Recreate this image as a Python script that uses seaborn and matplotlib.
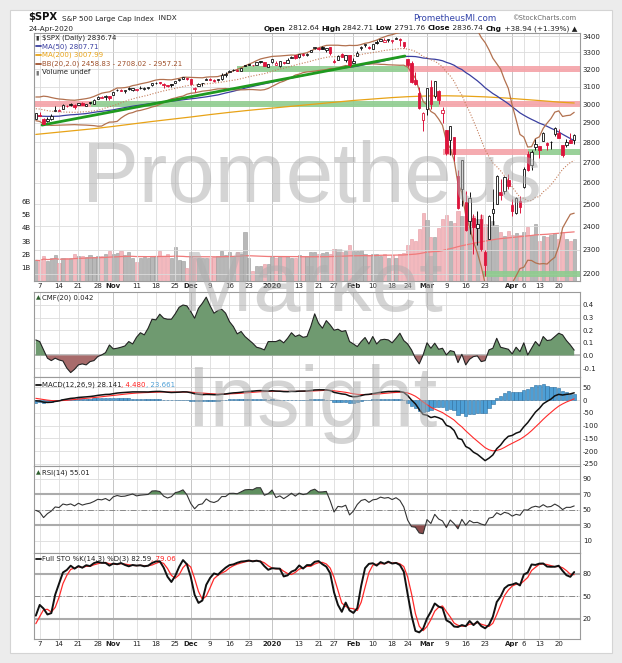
import numpy as np
import pandas as pd
import matplotlib
matplotlib.use('Agg')
import matplotlib.pyplot as plt
from matplotlib.lines import Line2D
from matplotlib.patches import Rectangle
import matplotlib.ticker as mticker
import seaborn as sns

# ---------------- data (daily $SPX, 4-Oct-2019 .. 24-Apr-2020) ----------------
holidays = ['2019-11-28', '2019-12-25', '2020-01-01', '2020-01-20', '2020-02-17', '2020-04-10']

open_ = [2918.6, 2944.2, 2920.4, 2911.1, 2918.6, 2963.1, 2965.8, 2973.6, 2989.7, 3000.8, 2996.8, 2996.5, 3010.7, 2994.0, 3014.8, 3003.3, 3032.1, 3035.4, 3039.7, 3046.9,
         3050.7, 3079.0, 3080.8, 3075.1, 3087.0, 3081.3, 3080.3, 3089.3, 3084.2, 3090.8, 3107.9, 3117.9, 3127.5, 3114.7, 3108.5, 3111.4, 3117.4, 3134.9, 3145.5, 3147.2,
         3143.9, 3087.4, 3103.5, 3119.2, 3134.6, 3141.9, 3135.4, 3135.8, 3141.2, 3166.7, 3183.6, 3195.4, 3195.2, 3192.3, 3223.3, 3226.1, 3225.5, 3227.2, 3247.2, 3240.1, 3215.2,
         3244.7, 3226.4, 3217.6, 3241.9, 3238.6, 3266.0, 3281.8, 3271.1, 3285.4, 3282.3, 3303.0, 3323.7, 3321.0, 3330.0, 3315.8, 3333.1, 3247.2, 3255.4, 3289.5, 3256.5, 3282.3,
         3235.7, 3280.6, 3324.9, 3344.9, 3335.5, 3318.3, 3365.9, 3370.5, 3365.9, 3378.1, 3369.0, 3380.4, 3380.5, 3360.5, 3257.6, 3238.9, 3139.9, 3062.5, 2916.9,
         2974.3, 3096.5, 3045.8, 3075.7, 2954.2, 2863.9, 2813.5, 2825.6, 2630.9, 2570.0, 2508.6, 2425.7, 2436.5, 2393.5, 2431.9, 2290.7, 2344.4, 2457.8, 2501.3, 2555.9, 2559.0, 2614.7,
         2498.1, 2458.5, 2514.9, 2578.3, 2738.7, 2685.0, 2777.0, 2782.5, 2805.1, 2795.6, 2799.3, 2842.4, 2845.6, 2784.8, 2787.9, 2810.4, 2812.6]
high_ = [2953.7, 2959.8, 2925.5, 2929.3, 2948.5, 2993.3, 2972.8, 3003.3, 2997.5, 3008.3, 3000.0, 3007.3, 3014.6, 3004.8, 3016.1, 3027.4, 3044.1, 3047.9, 3050.1, 3046.9,
         3067.0, 3085.2, 3084.0, 3078.3, 3097.8, 3093.1, 3088.3, 3102.6, 3098.1, 3098.2, 3120.5, 3124.2, 3127.6, 3119.0, 3110.1, 3112.9, 3133.8, 3142.7, 3154.3, 3150.3,
         3144.3, 3095.0, 3119.4, 3119.5, 3150.6, 3148.9, 3142.1, 3144.0, 3176.3, 3182.7, 3197.7, 3198.2, 3198.5, 3205.5, 3225.7, 3227.8, 3226.4, 3240.1, 3247.9, 3240.9, 3231.7,
         3258.1, 3246.2, 3246.8, 3244.9, 3267.1, 3275.6, 3283.0, 3288.1, 3294.3, 3298.7, 3317.1, 3329.9, 3329.8, 3337.8, 3326.9, 3333.2, 3258.9, 3285.8, 3293.5, 3285.9, 3282.3,
         3268.4, 3306.9, 3337.6, 3348.0, 3341.4, 3352.3, 3375.6, 3381.5, 3385.1, 3380.7, 3375.0, 3393.5, 3389.2, 3360.8, 3259.8, 3247.0, 3182.5, 3097.1, 2959.7,
         3091.0, 3136.7, 3131.0, 3083.0, 2985.9, 2863.9, 2882.6, 2825.6, 2661.0, 2711.3, 2563.0, 2553.9, 2453.6, 2467.0, 2453.0, 2300.7, 2449.7, 2571.4, 2637.0, 2615.9, 2631.8, 2641.4,
         2522.8, 2533.2, 2538.2, 2676.9, 2756.9, 2760.8, 2818.6, 2782.5, 2851.9, 2801.9, 2806.5, 2879.2, 2869.0, 2785.5, 2815.1, 2844.9, 2842.7]
low_ = [2918.6, 2935.7, 2892.7, 2907.4, 2917.1, 2963.1, 2962.9, 2973.6, 2985.2, 2991.8, 2976.3, 2995.4, 2995.0, 2991.2, 3000.4, 3001.9, 3032.1, 3034.8, 3026.0, 3023.2,
        3050.7, 3074.9, 3072.2, 3065.9, 3080.2, 3073.6, 3075.8, 3084.7, 3078.8, 3083.3, 3104.6, 3112.1, 3113.5, 3091.4, 3094.6, 3099.3, 3117.4, 3131.0, 3143.4, 3139.3,
        3110.8, 3070.3, 3102.5, 3103.8, 3134.6, 3135.5, 3126.1, 3133.2, 3138.5, 3156.5, 3183.6, 3191.0, 3191.1, 3192.3, 3216.0, 3222.3, 3220.5, 3227.2, 3234.4, 3216.6, 3212.0,
        3235.5, 3222.3, 3214.6, 3232.4, 3236.7, 3263.7, 3260.9, 3268.4, 3277.2, 3280.7, 3302.8, 3318.9, 3316.6, 3320.0, 3301.9, 3281.5, 3234.5, 3253.2, 3271.9, 3242.8, 3214.7,
        3235.7, 3280.6, 3313.8, 3334.4, 3322.1, 3317.8, 3352.7, 3369.7, 3360.5, 3366.2, 3355.6, 3378.8, 3341.0, 3328.5, 3214.7, 3118.8, 3109.0, 2977.4, 2855.8,
        2945.2, 2976.6, 3034.4, 2999.8, 2901.5, 2734.4, 2734.0, 2707.2, 2478.9, 2492.4, 2380.9, 2367.0, 2280.5, 2319.8, 2295.6, 2191.9, 2344.4, 2407.5, 2500.7, 2520.0, 2545.3, 2571.2,
        2447.5, 2455.8, 2460.0, 2574.6, 2657.7, 2663.3, 2762.4, 2721.2, 2805.1, 2761.5, 2764.3, 2830.9, 2820.4, 2727.1, 2776.0, 2794.3, 2791.8]
close_ = [2952.0, 2938.8, 2893.1, 2919.4, 2938.1, 2970.3, 2966.2, 2995.7, 2989.7, 2998.0, 2986.2, 3006.7, 2996.0, 3004.5, 3010.3, 3022.6, 3039.4, 3036.9, 3046.8, 3037.6,
          3066.9, 3078.3, 3074.6, 3076.8, 3085.2, 3093.1, 3087.0, 3091.8, 3094.0, 3096.6, 3120.5, 3122.0, 3120.2, 3108.5, 3103.5, 3110.3, 3133.6, 3140.5, 3153.6, 3141.0,
          3113.9, 3093.2, 3112.8, 3117.4, 3145.9, 3136.0, 3132.5, 3141.6, 3168.6, 3168.8, 3191.5, 3192.5, 3191.1, 3205.4, 3221.2, 3224.0, 3223.4, 3239.9, 3240.0, 3221.3, 3230.8,
          3257.9, 3234.9, 3246.3, 3237.2, 3253.1, 3274.7, 3265.4, 3288.1, 3283.2, 3289.3, 3316.8, 3329.6, 3320.8, 3321.8, 3325.5, 3295.5, 3243.6, 3276.2, 3273.4, 3283.7, 3225.5,
          3248.9, 3297.6, 3334.7, 3345.8, 3327.7, 3352.1, 3357.8, 3379.5, 3373.9, 3380.2, 3370.3, 3386.2, 3373.2, 3337.8, 3225.9, 3128.2, 3116.4, 2978.8, 2954.2,
          3090.2, 3003.4, 3130.1, 3023.9, 2972.4, 2746.6, 2882.2, 2741.4, 2480.6, 2711.0, 2386.1, 2529.2, 2398.1, 2409.4, 2304.9, 2237.4, 2447.3, 2475.6, 2630.1, 2541.5, 2626.7, 2584.6,
          2470.5, 2526.9, 2488.7, 2663.7, 2659.4, 2750.0, 2789.8, 2761.6, 2846.1, 2783.4, 2799.6, 2874.6, 2823.2, 2736.6, 2799.3, 2797.8, 2836.7]
volume_b = [1.56, 1.52, 1.87, 1.52, 1.70, 1.95, 1.38, 1.70, 1.70, 1.70, 2.00, 1.85, 1.90, 1.80, 1.98, 1.80, 1.92, 1.87, 2.03, 2.28,
            2.00, 2.13, 2.28, 1.95, 2.20, 1.75, 1.45, 1.75, 1.80, 1.75, 1.92, 1.87, 2.25, 1.92, 2.05, 1.70, 2.55, 1.55, 1.50, 1.00,
            1.87, 1.70, 1.70, 1.70, 1.70, 1.75, 1.78, 1.90, 2.25, 1.98, 2.20, 1.90, 2.20, 2.00, 3.70, 1.70, 0.75, 1.10, 1.15, 1.25, 1.30,
            1.80, 1.77, 1.90, 1.90, 1.87, 1.75, 1.70, 1.97, 1.85, 1.85, 2.17, 2.17, 2.00, 2.10, 2.17, 2.05, 2.40, 2.15, 2.15, 2.27, 2.75,
            2.25, 2.25, 2.30, 2.00, 1.95, 2.00, 2.05, 1.92, 2.00, 1.75, 1.95, 1.75, 2.07, 2.10, 2.75, 3.20, 3.00, 3.90, 5.10,
            4.60, 3.30, 3.30, 4.00, 4.70, 5.00, 4.50, 4.40, 5.30, 4.90, 4.90, 4.70, 4.90, 4.70, 5.00, 4.30, 4.20, 4.50, 4.20, 3.70, 3.40, 3.80,
            3.50, 3.60, 3.50, 3.70, 4.10, 3.50, 4.30, 3.00, 3.40, 3.30, 3.50, 3.60, 3.20, 3.70, 3.20, 3.00, 3.20]
cmf20 = [0.123, 0.11, 0.044, -0.022, -0.041, -0.022, -0.036, -0.044, -0.10, -0.136,
         -0.11, -0.075, -0.067, -0.075, -0.049, -0.041, -0.009, 0.004, 0.022, 0.083,
         0.052, 0.057, 0.065, 0.075, 0.11, 0.091, 0.144, 0.18, 0.163, 0.216,
         0.287, 0.282, 0.327, 0.295, 0.287, 0.287, 0.33, 0.382, 0.40, 0.393,
         0.348, 0.295, 0.374, 0.414, 0.462, 0.393, 0.335, 0.356, 0.366, 0.335,
         0.268, 0.229, 0.171, 0.19, 0.15, 0.123, 0.097, 0.065, 0.057, 0.044,
         0.11, 0.11, 0.11, 0.123, 0.10, 0.136, 0.18, 0.15, 0.163, 0.144,
         0.15, 0.23, 0.33, 0.255, 0.216, 0.276, 0.242, 0.20, 0.208, 0.19, 0.197,
         0.11, 0.091, 0.07, 0.11, 0.142, 0.091, 0.15, 0.091, 0.123, 0.128,
         0.123, 0.10, 0.136, 0.176, 0.118, 0.091, 0.044, -0.022, -0.067, 0.004,
         0.10, 0.057, 0.097, 0.049, 0.057, 0.004, 0.038, 0.03, -0.057, 0.009,
         -0.075, -0.03, -0.009, -0.004, -0.049, -0.041, 0.044, 0.057, 0.136, 0.065,
         0.057, 0.049, 0.012, 0.065, 0.03, 0.10, 0.004, 0.057, 0.11, 0.075,
         0.15, 0.118, 0.123, 0.15, 0.176, 0.163, 0.118, 0.083, 0.042]
# closes before the visible window (1-Aug .. 3-Oct-2019), only used to warm up the indicators
warmup_close = [2953.6, 2932.1, 2844.7, 2881.8, 2884.0, 2938.1, 2918.7, 2882.7, 2926.3, 2840.6, 2847.6, 2888.7, 2923.7, 2900.5, 2924.4, 2923.0, 2847.1, 2878.4, 2869.2, 2887.9, 2924.6, 2926.5,
                2906.3, 2937.8, 2976.0, 2978.7, 2978.4, 2979.4, 3000.9, 3009.6, 3007.4, 2998.0, 3005.7, 3006.7, 3006.8, 2992.1, 2991.8, 2966.6, 2984.9, 2977.6, 2961.8, 2976.7,
                2940.3, 2887.6, 2910.6]
# MA(200)
ma200_idx = [0, 5, 10, 15, 20, 25, 30, 35, 40, 45, 50, 55, 61, 66, 71, 76, 82, 87, 92, 96, 101, 106, 111, 116, 121, 126, 131, 135, 139]
ma200_val = [2840, 2850, 2860, 2870, 2882, 2895, 2908, 2920, 2932, 2945, 2957, 2968, 2980, 2990, 3000, 3010, 3022, 3030, 3038, 3043,
             3047, 3048, 3046, 3042, 3036, 3028, 3020, 3013, 3008]
# annotations drawn on the price panel
trend_idx = [1.6, 95.3]
trend_val = [2889, 3278]
band_level = [3200, 3200, 3000, 3000, 3000, 2750, 2750, 2200]
band_start = [52, 96, -0.6, 14.3, 104, 105, 127, 115.4]
band_end = [96, 140.5, 14.3, 104, 140.5, 127, 140.5, 140.5]
band_kind = ['g', 'r', 'r', 'g', 'r', 'r', 'g', 'g']

# ---------------- indicators ----------------
dates = pd.bdate_range('2019-10-04', '2020-04-24')
dates = dates[~dates.isin(pd.to_datetime(holidays))]
n = len(dates)
idx = np.arange(n)
o, h, l, c = map(np.array, (open_, high_, low_, close_))
vol = np.array(volume_b)
npre = len(warmup_close)
call = pd.Series(warmup_close + close_)
hall = pd.Series(warmup_close + high_)
lall = pd.Series(warmup_close + low_)

ma50 = call.rolling(50, min_periods=1).mean().values[npre:]
bb_mid = call.rolling(20).mean()
bb_sd = call.rolling(20).std(ddof=0)
bb_up = (bb_mid + 2 * bb_sd).values[npre:]
bb_lo = (bb_mid - 2 * bb_sd).values[npre:]
bb_mid = bb_mid.values[npre:]

ema12 = call.ewm(span=12, adjust=False).mean()
ema26 = call.ewm(span=26, adjust=False).mean()
macd = ema12 - ema26
sig = macd.ewm(span=9, adjust=False).mean()
hist = (macd - sig).values[npre:]
macd = macd.values[npre:]
sig = sig.values[npre:]

d = call.diff().fillna(0)
ag = d.clip(lower=0).ewm(alpha=1 / 14, adjust=False).mean()
al = (-d.clip(upper=0)).ewm(alpha=1 / 14, adjust=False).mean()
rsi = (100 - 100 / (1 + ag / al)).values[npre:]

ll = lall.rolling(14, min_periods=1).min()
hh = hall.rolling(14, min_periods=1).max()
fast = 100 * (call - ll) / (hh - ll)
stok = fast.rolling(3, min_periods=1).mean()
stod = stok.rolling(3, min_periods=1).mean()
stok = stok.values[npre:]
stod = stod.values[npre:]

vol_ma = pd.Series(vol).rolling(50, min_periods=1).mean().values
prev_c = np.r_[warmup_close[-1], c[:-1]]

# ---------------- figure ----------------
sns.set_theme(style='white')
plt.rcParams['font.family'] = ['DejaVu Sans']
W, H = 622, 663
fig = plt.figure(figsize=(W / 100, H / 100), dpi=100)
fig.patch.set_facecolor('#ececec')
fig.add_artist(Rectangle((10 / W, 1 - 653 / H), 602 / W, 643 / H, transform=fig.transFigure,
                         facecolor='white', edgecolor='#d4d4d4', lw=0.8, zorder=-5))

PL, PR = 33.5, 580
XL = (-0.6, 140.5)


def px_axes(y0, y1):
    return fig.add_axes([PL / W, 1 - y1 / H, (PR - PL) / W, (y1 - y0) / H])


# x ticks: first trading day of every week / month
month_pos = [i for i in range(1, n) if dates[i].month != dates[i - 1].month]
week_pos = [i for i in range(1, n) if dates[i].weekday() < dates[i - 1].weekday()]
ticks = {}
for m in month_pos:
    ticks[m] = ('2020' if dates[m].month == 1 else dates[m].strftime('%b'), True)
for wk in week_pos:
    if min(abs(wk - m) for m in month_pos) > 2:
        ticks[wk] = (str(dates[wk].day), False)
tick_pos = sorted(ticks)
tick_lab = [ticks[t][0] for t in tick_pos]
tick_bold = [ticks[t][1] for t in tick_pos]

EDGE = '#9a9a9a'


def base(ax, yticks, ylabels, ylim, show_x=False):
    ax.set_xlim(*XL)
    ax.set_ylim(*ylim)
    for s in ax.spines.values():
        s.set_color(EDGE)
        s.set_linewidth(0.8)
    ax.yaxis.tick_right()
    ax.yaxis.set_major_locator(mticker.FixedLocator(yticks))
    ax.yaxis.set_minor_locator(mticker.NullLocator())
    ax.yaxis.set_major_formatter(mticker.FixedFormatter(ylabels))
    ax.yaxis.set_minor_formatter(mticker.NullFormatter())
    ax.set_xticks(tick_pos)
    ax.tick_params(axis='both', length=0, labelsize=5, colors='#222222', pad=2)
    if show_x:
        ax.set_xticklabels(tick_lab)
        for t, b in zip(ax.get_xticklabels(), tick_bold):
            if b:
                t.set_fontweight('bold')
        ax.tick_params(axis='x', pad=1.5)
    else:
        ax.set_xticklabels([])
    for t, b in zip(tick_pos, tick_bold):
        ax.axvline(t, color='#bcbcbc' if b else '#dcdcdc', lw=0.6, zorder=0)
    for y in yticks:
        ax.axhline(y, color='#dcdcdc', lw=0.6, zorder=0)


# ---- price panel ----
ax_p = px_axes(33, 281)
ax_p.set_yscale('log')
pt = list(range(2200, 3401, 100))
ax_v = ax_p.twinx()
base(ax_p, pt, [str(v) for v in pt], (2172, 3419), show_x=True)
ax_p.yaxis.tick_right()
ax_p.set_zorder(2)
ax_p.patch.set_visible(False)
ax_v.set_zorder(1)
ax_v.set_facecolor('white')
ax_v.set_xlim(*XL)
ax_v.set_ylim(0, 18.7)
ax_v.yaxis.tick_left()
ax_v.set_yticks([1, 2, 3, 4, 5, 6])
ax_v.set_yticklabels(['1B', '2B', '3B', '4B', '5B', '6B'])
ax_v.tick_params(axis='y', length=0, labelsize=5, colors='#222222', pad=2)
ax_v.grid(False)
for s in ax_v.spines.values():
    s.set_visible(False)
down = c < prev_c
ax_v.bar(idx, vol, width=0.82, color=np.where(down, '#f3b9be', '#b8b8b8'),
         edgecolor=np.where(down, '#e59aa2', '#9a9a9a'), lw=0.4, zorder=2)
sns.lineplot(x=idx, y=vol_ma, ax=ax_v, color='#f07a7a', lw=0.9, estimator=None, zorder=3)

# support / resistance zones
hw = 3.0 / 546.8
for lev, x0, x1, k in zip(band_level, band_start, band_end, band_kind):
    ax_p.fill_between([x0, x1], lev * np.exp(-hw), lev * np.exp(hw), lw=0, zorder=2,
                      color='#8fcc8f' if k == 'g' else '#f4a2a8', alpha=0.9)

sns.lineplot(x=ma200_idx, y=ma200_val, ax=ax_p, color='#e8a317', lw=0.9, estimator=None, sort=False, zorder=3)
sns.lineplot(x=idx, y=ma50, ax=ax_p, color='#3a3fa0', lw=0.9, estimator=None, zorder=3)
sns.lineplot(x=idx, y=bb_up, ax=ax_p, color='#b2714f', lw=0.9, estimator=None, zorder=3)
sns.lineplot(x=idx, y=bb_lo, ax=ax_p, color='#b2714f', lw=0.9, estimator=None, zorder=3)
ax_p.plot(idx, bb_mid, color='#c47e5c', lw=0.8, ls=(0, (1, 1.5)), zorder=3)
ax_p.plot(trend_idx, trend_val, color='#1f9a1f', lw=2.0, zorder=3.5, solid_capstyle='round')

red = '#dc143c'
edge = np.where(down, red, '#111111')
face = np.where(c >= o, 'white', edge)
body_lo = np.minimum(o, c)
body_h = np.maximum(np.abs(c - o), body_lo * 0.0012)
ax_p.vlines(idx, l, h, colors=edge, lw=0.7, zorder=4)
ax_p.bar(idx, body_h, bottom=body_lo, width=0.62, color=face, edgecolor=edge, lw=0.6, zorder=5)

# ---- CMF ----
ax_c = px_axes(292, 377)
base(ax_c, [-0.1, 0, 0.1, 0.2, 0.3, 0.4], ['-0.1', '0.0', '0.1', '0.2', '0.3', '0.4'], (-0.171, 0.503))
cm = np.array(cmf20)
ax_c.axhline(0, color='#bdbdbd', lw=1.4, zorder=1)
ax_c.fill_between(idx, cm, 0, where=cm >= 0, interpolate=True, color='#6f9a70', lw=0, zorder=2)
ax_c.fill_between(idx, cm, 0, where=cm < 0, interpolate=True, color='#a86b6b', lw=0, zorder=2)
sns.lineplot(x=idx, y=cm, ax=ax_c, color='#222222', lw=0.8, estimator=None, zorder=3)

# ---- MACD ----
ax_m = px_axes(377, 466)
mt = [50, 0, -50, -100, -150, -200, -250]
base(ax_m, mt, [str(v) for v in mt], (-258, 90))
ax_m.bar(idx, hist, width=0.85, color='#4d9fd6', edgecolor='#2b6d9e', lw=0.4, zorder=2)
sns.lineplot(x=idx, y=macd, ax=ax_m, color='#111111', lw=1.1, estimator=None, zorder=4)
sns.lineplot(x=idx, y=sig, ax=ax_m, color='#ff2a2a', lw=0.8, estimator=None, zorder=3)

# ---- RSI ----
ax_r = px_axes(466, 553)
base(ax_r, [10, 30, 50, 70, 90], ['10', '30', '50', '70', '90'], (-5.7, 106.5))
for y in (70, 30):
    ax_r.axhline(y, color='#ababab', lw=1.5, zorder=1)
ax_r.axhline(50, color='#8a8a8a', lw=0.7, ls=(0, (6, 2, 1, 2)), zorder=1)
ax_r.fill_between(idx, rsi, 70, where=rsi >= 70, interpolate=True, color='#5f8f5f', lw=0, zorder=2)
ax_r.fill_between(idx, rsi, 30, where=rsi <= 30, interpolate=True, color='#8b4c4c', lw=0, zorder=2)
sns.lineplot(x=idx, y=rsi, ax=ax_r, color='#333333', lw=0.8, estimator=None, zorder=3)

# ---- Full STO ----
ax_s = px_axes(553, 639)
base(ax_s, [20, 50, 80], ['20', '50', '80'], (-6.7, 108), show_x=True)
for y in (80, 20):
    ax_s.axhline(y, color='#ababab', lw=1.5, zorder=1)
ax_s.axhline(50, color='#8a8a8a', lw=0.7, ls=(0, (6, 2, 1, 2)), zorder=1)
sns.lineplot(x=idx, y=stod, ax=ax_s, color='#ff2a2a', lw=0.9, estimator=None, zorder=3)
sns.lineplot(x=idx, y=stok, ax=ax_s, color='#111111', lw=1.4, estimator=None, zorder=4)

for ax in (ax_p, ax_v, ax_c, ax_m, ax_r, ax_s):
    ax.set_xlabel('')
    ax.set_ylabel('')

# ---------------- texts ----------------
renderer = fig.canvas.get_renderer()


def rich(x, y, parts, size=5.0, ha='left'):
    objs = [fig.text(0, 1 - y / H, s, fontsize=size, color=col, fontweight=wt,
                     va='baseline', ha='left', zorder=60) for s, col, wt in parts]
    widths = [t.get_window_extent(renderer).width for t in objs]
    x0 = x - sum(widths) if ha == 'right' else x
    for t, wd in zip(objs, widths):
        t.set_x(x0 / W)
        x0 += wd


def dash(x, y, col):
    fig.add_artist(Line2D([x / W, (x + 5.5) / W], [1 - y / H, 1 - y / H], color=col, lw=1.3,
                          transform=fig.transFigure, zorder=60))


rich(28, 20.5, [('$SPX', '#111111', 'bold')], size=7.2)
rich(62, 20.5, [('S&P 500 Large Cap Index', '#222222', 'normal'), ('  INDX', '#222222', 'normal')], size=5.2)
rich(413, 21, [('PrometheusMI.com', '#3344aa', 'normal')], size=6.3)
rich(512, 20.5, [('\u00a9StockCharts.com', '#666666', 'normal')], size=4.9)
rich(28, 30.5, [('24-Apr-2020', '#222222', 'normal')], size=5.2)
rich(577, 30.5, [('Open', '#111111', 'bold'), (' 2812.64 ', '#222222', 'normal'),
                 ('High', '#111111', 'bold'), (' 2842.71 ', '#222222', 'normal'),
                 ('Low', '#111111', 'bold'), (' 2791.76 ', '#222222', 'normal'),
                 ('Close', '#111111', 'bold'), (' 2836.74 ', '#222222', 'normal'),
                 ('Chg', '#111111', 'bold'), (' +38.94 (+1.39%) \u25b2', '#222222', 'normal')],
     size=5.3, ha='right')

rich(35.5, 39.5, [('\u25ae', '#333333', 'normal')], size=4.5)
rich(41.5, 39.5, [('$SPX (Daily) 2836.74', '#222222', 'normal')])
dash(35.5, 46.4, '#3a3fa0')
rich(41.5, 48.2, [('MA(50) 2807.71', '#3a3fa0', 'normal')])
dash(35.5, 55.1, '#e8a317')
rich(41.5, 56.9, [('MA(200) 3007.99', '#e8a317', 'normal')])
dash(35.5, 63.8, '#a0522d')
rich(41.5, 65.6, [('BB(20,2.0) 2458.83 - 2708.02 - 2957.21', '#a0522d', 'normal')])
rich(35.5, 74.3, [('\u25ae', '#777777', 'normal')], size=4.5)
rich(41.5, 74.3, [('Volume undef', '#222222', 'normal')])

rich(35.5, 299.5, [('\u25b2', '#2f5f2f', 'normal')], size=4.5)
rich(41.5, 299.5, [('CMF(20) 0.042', '#222222', 'normal')])
dash(35.5, 385.2, '#111111')
rich(41.5, 387, [('MACD(12,26,9) 28.141', '#222222', 'normal'), (', 4.480', '#ff2020', 'normal'),
                 (', 23.661', '#4d9fd6', 'normal')])
rich(35.5, 474, [('\u25b2', '#2f5f2f', 'normal')], size=4.5)
rich(41.5, 474, [('RSI(14) 55.01', '#222222', 'normal')])
dash(35.5, 559.2, '#111111')
rich(41.5, 561, [('Full STO %K(14,3) %D(3) 82.59', '#222222', 'normal'), (', 79.06', '#ff2020', 'normal')])

# watermark
for txt, yb in (('Prometheus', 202), ('Market', 311), ('Insight', 426)):
    fig.text(312 / W, 1 - yb / H, txt, fontsize=61.5, family=['Liberation Sans', 'DejaVu Sans'],
             color='#adadad', alpha=0.52, ha='center', va='baseline', zorder=80)

fig.savefig('out.png', dpi=100, facecolor=fig.get_facecolor())
